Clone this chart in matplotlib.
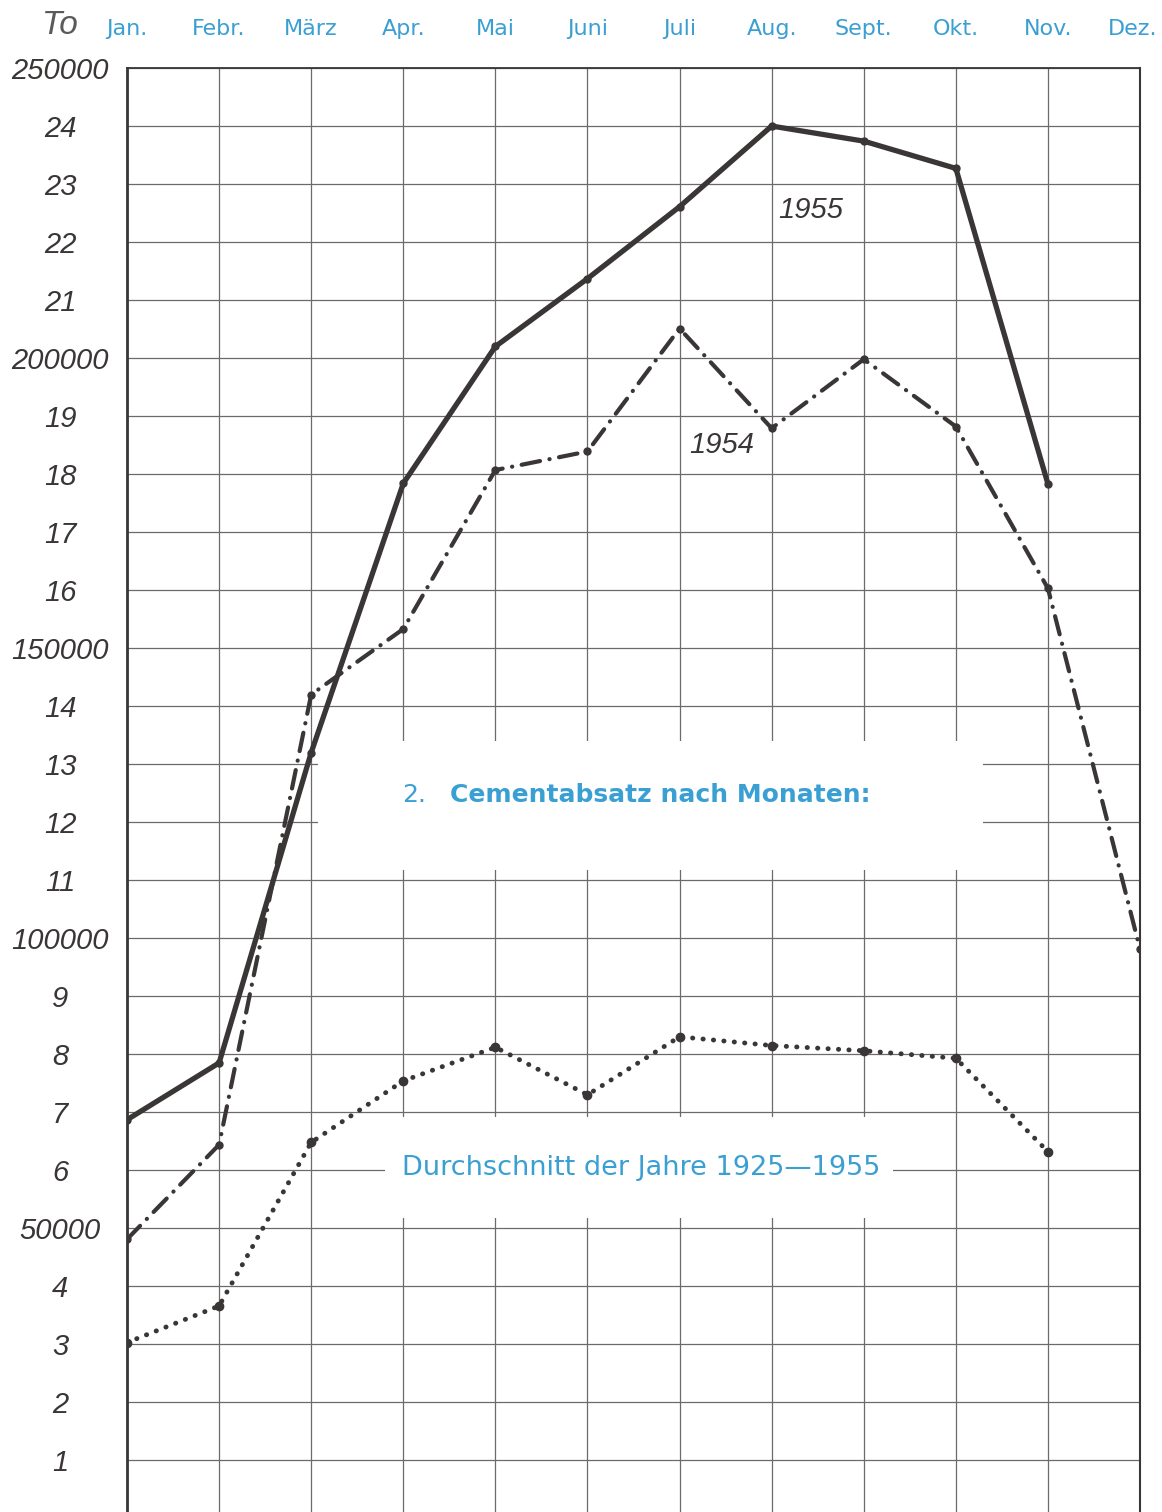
import matplotlib
matplotlib.use('Agg')
import matplotlib.pyplot as plt
from matplotlib.patches import Rectangle
from matplotlib.transforms import ScaledTranslation

# Months (top axis)
months = ['Jan.', 'Febr.', 'März', 'Apr.', 'Mai', 'Juni',
          'Juli', 'Aug.', 'Sept.', 'Okt.', 'Nov.', 'Dez.']

# Cement sales in tons per month
sales_1955 = [68700, 78500, 132000, 178400, 202000, 213700,
              226100, 240000, 237400, 232700, 178300]
sales_1954 = [48100, 64400, 142000, 153300, 180700, 183900,
              205100, 187900, 199800, 188200, 160300, 98100]
sales_avg = [30300, 36600, 64800, 75400, 81200, 73000,
             83000, 81500, 80600, 79300, 63200]

# y ticks every 10000 t
ytick_values = list(range(10000, 260000, 10000))
ytick_labels = ['1', '2', '3', '4', '50000', '6', '7', '8', '9', '100000',
                '11', '12', '13', '14', '150000', '16', '17', '18', '19', '200000',
                '21', '22', '23', '24', '250000']

blue = '#3a9fd2'
ink = '#3a3636'

fig = plt.figure(figsize=(11.62, 15.12), dpi=100)
ax = fig.add_axes([0.1093, 0.0, 0.8718, 0.955])

x = list(range(len(months)))

# Grid
ax.set_axisbelow(True)
ax.grid(True, color='#6a6a6a', lw=0.9)

# White boxes behind the captions
ax.add_patch(Rectangle((2.074, 111700), 9.294 - 2.074, 134000 - 111700,
                       facecolor='white', edgecolor='none', zorder=1))
ax.add_patch(Rectangle((2.80, 51700), 8.32 - 2.80, 69100 - 51700,
                       facecolor='white', edgecolor='none', zorder=1))

# Series
ax.plot(x[:len(sales_1955)], sales_1955, color=ink, lw=3.8,
        solid_joinstyle='round', marker='o', ms=5, zorder=4)
ax.plot(x[:len(sales_1954)], sales_1954, color=ink, lw=3.0,
        linestyle=(0, (4.5, 2.3, 0.05, 2.3)), dash_capstyle='round',
        marker='o', ms=5, zorder=3)
ax.plot(x[:len(sales_avg)], sales_avg, color=ink, lw=3.5,
        linestyle=(0, (0.05, 2.1)), dash_capstyle='round',
        marker='o', ms=6, zorder=3)

# Labels on the lines
ax.text(7.42, 225500, '1955', fontsize=21, style='italic', color=ink,
        family='Liberation Sans', ha='center', va='center', zorder=5)
ax.text(6.46, 185000, '1954', fontsize=21, style='italic', color=ink,
        family='Liberation Sans', ha='center', va='center', zorder=5)

# Captions
ax.text(2.986, 124700, '2.', fontsize=18, color=blue, ha='left',
        va='center', zorder=5)
ax.text(3.507, 124700, 'Cementabsatz nach Monaten:', fontsize=18,
        fontweight='bold', color=blue, ha='left', va='center', zorder=5)
ax.text(2.986, 60300, 'Durchschnitt der Jahre 1925—1955', fontsize=19.5,
        color=blue, ha='left', va='center', zorder=5)

# Axes
ax.set_xlim(0, 11)
ax.set_ylim(1086, 250000)
ax.set_xticks(x)
ax.set_xticklabels(months, fontsize=16, color=blue)
ax.xaxis.set_ticks_position('top')
ax.tick_params(axis='x', length=0, pad=21)
ax.set_yticks(ytick_values)
ax.set_yticklabels(ytick_labels, fontsize=21, style='italic', color=ink,
                   family='Liberation Sans')
ax.tick_params(axis='y', length=0, pad=48)
for lab in ax.get_yticklabels():
    lab.set_horizontalalignment('center')

# keep "Dez." inside the figure
last = ax.xaxis.get_major_ticks()[-1].label2
last.set_transform(last.get_transform() +
                   ScaledTranslation(-5 / 72, 0, fig.dpi_scale_trans))

ax.spines['bottom'].set_visible(False)
ax.spines['left'].set_linewidth(2.0)
ax.spines['left'].set_color(ink)
ax.spines['top'].set_linewidth(1.3)
ax.spines['top'].set_color(ink)
ax.spines['right'].set_linewidth(1.5)
ax.spines['right'].set_color(ink)

fig.text(60 / 1162, 1 - 25 / 1512, 'To', fontsize=24, style='italic',
         color='#5a5a5a', family='Liberation Sans', ha='center', va='center')

fig.savefig('out.png', dpi=100, facecolor='white')
